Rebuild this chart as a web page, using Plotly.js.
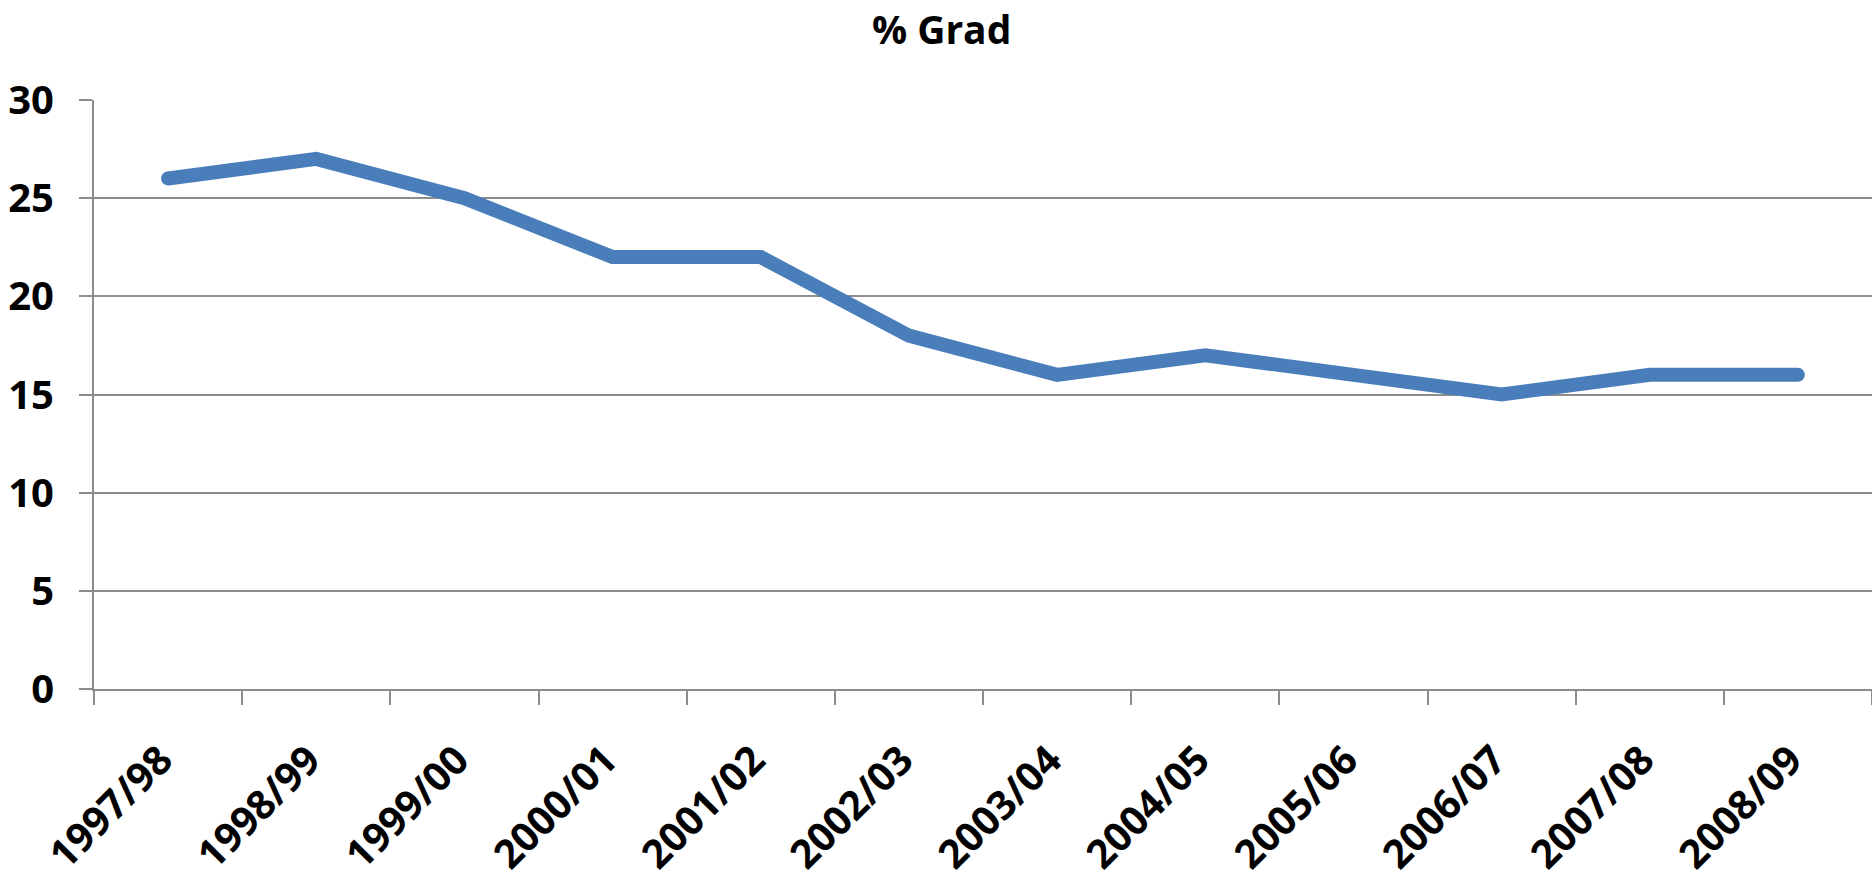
<!DOCTYPE html>
<html>
<head>
<meta charset="utf-8">
<script src="https://cdn.plot.ly/plotly-3.0.1.min.js"></script>
<style>
  html, body { margin: 0; padding: 0; background: #fff; }
  #chart { width: 1872px; height: 887px; }
  path.js-line { stroke-linecap: round; }
</style>
</head>
<body>
<div id="chart"></div>
<script>
const categories = ["1997/98", "1998/99", "1999/00", "2000/01", "2001/02", "2002/03",
                    "2003/04", "2004/05", "2005/06", "2006/07", "2007/08", "2008/09"];
const gradPct = [26, 27, 25, 22, 22, 18, 16, 17, 16, 15, 16, 16];
const yTicks = [0, 5, 10, 15, 20, 25, 30];
const chartTitle = "% Grad";

const fontFamily = '"Open Sans", "Noto Sans", Lato, sans-serif';
const gridColor = "#8c8c8c";

const trace = {
  type: "scatter",
  mode: "lines",
  x: categories,
  y: gradPct,
  line: { color: "#4A7EBB", width: 14 },
  hoverinfo: "none",
  showlegend: false
};

const layout = {
  width: 1872,
  height: 887,
  margin: { l: 94, r: 0, t: 100, b: 198, pad: 0 },
  paper_bgcolor: "#ffffff",
  plot_bgcolor: "#ffffff",
  font: { family: fontFamily, color: "#000000" },
  title: {
    text: "<b>" + chartTitle + "</b>",
    font: { family: fontFamily, size: 39, color: "#000000" },
    x: 0.503,
    xanchor: "center",
    xref: "container",
    y: 1 - 30 / 887,
    yanchor: "middle",
    yref: "container"
  },
  xaxis: {
    type: "category",
    tickson: "boundaries",
    ticks: "outside",
    ticklen: 14,
    tickwidth: 2,
    tickcolor: gridColor,
    showline: true,
    linecolor: gridColor,
    linewidth: 2,
    showgrid: false,
    zeroline: false,
    tickangle: -45,
    tickmode: "array",
    tickvals: categories,
    ticktext: categories.map(c => c + "\u00A0"),
    ticklabelstandoff: 22,
    tickfont: { family: fontFamily, size: 40, color: "#000000", weight: "bold" },
    range: [-0.5, categories.length - 0.5],
    fixedrange: true
  },
  yaxis: {
    range: [0, 30],
    tickvals: yTicks,
    ticktext: yTicks.map(String),
    ticks: "outside",
    ticklen: 13,
    tickwidth: 2,
    tickcolor: gridColor,
    showline: true,
    linecolor: gridColor,
    linewidth: 2,
    showgrid: true,
    gridcolor: gridColor,
    gridwidth: 2,
    zeroline: false,
    ticklabelstandoff: 17,
    tickfont: { family: fontFamily, size: 40, color: "#000000", weight: "bold" },
    fixedrange: true
  }
};

Plotly.newPlot("chart", [trace], layout, { displayModeBar: false, staticPlot: true });
</script>
</body>
</html>
